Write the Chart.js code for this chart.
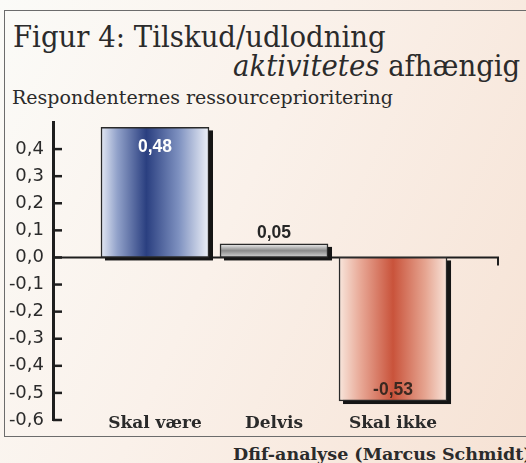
<!DOCTYPE html>
<html lang="da">
<head>
<meta charset="utf-8">
<title>Figur 4: Tilskud/udlodning aktivitetes afhængig</title>
<script src="https://cdn.jsdelivr.net/npm/chart.js@4.4.1/dist/chart.umd.min.js"></script>
<style>
  html, body { margin: 0; padding: 0; }
  body {
    width: 526px; height: 463px; overflow: hidden; position: relative;
    background: linear-gradient(115deg, #fbfbf8 0%, #faf1ea 45%, #f6e2d4 100%);
    font-family: "DejaVu Serif", serif; color: #2b2b2b;
  }
  #ramme { position: absolute; left: 4px; top: 10px; width: 600px; height: 425px; border: 1px solid #6c6c6c; }
  .txt { position: absolute; white-space: nowrap; line-height: 1; }
  #titel1 { left: 13px; top: 22.5px; font-size: 29px; transform: scaleX(0.95); transform-origin: 0 0; }
  #titel2 { right: 6px; top: 51.5px; font-size: 29px; transform: scaleX(0.95); transform-origin: 100% 0; }
  #undertitel { left: 12px; top: 88px; font-size: 19px; }
  #kilde { left: 233px; top: 446px; font-size: 17.5px; font-weight: bold; }
  canvas { position: absolute; left: 0; top: 0; }
</style>
</head>
<body>
<div id="ramme"></div>
<div class="txt" id="titel1">Figur 4: Tilskud/udlodning</div>
<div class="txt" id="titel2"><i>aktivitetes</i> afhængig</div>
<div class="txt" id="undertitel">Respondenternes ressourceprioritering</div>
<div class="txt" id="kilde">Dfif-analyse (Marcus Schmidt)</div>
<canvas id="diagram" width="526" height="463"></canvas>
<script>
// Data
const kategorier = ['Skal være', 'Delvis', 'Skal ikke'];
const vaerdier = [0.48, 0.05, -0.53];

const BAR_BREDDE = 108;

// Komma som decimaltegn
function komma(v, dec) {
  const r = Math.round(v * Math.pow(10, dec)) / Math.pow(10, dec) + 0;
  return r.toFixed(dec).replace('.', ',');
}

// Gradient for hver søjle
function soejleFarve(c) {
  const fallback = ['#2d4283', '#9a9a9a', '#c9513a'];
  if (c.type !== 'data') return fallback[0];
  const chart = c.chart;
  const i = c.dataIndex;
  const xs = chart.scales.x, ys = chart.scales.y;
  if (!xs || !ys || !chart.chartArea) return fallback[i];
  const cx = xs.getPixelForValue(i);
  const ctx = chart.ctx;
  let g;
  if (i === 0) {
    g = ctx.createLinearGradient(cx - BAR_BREDDE / 2, 0, cx + BAR_BREDDE / 2, 0);
    g.addColorStop(0, '#e3e8f3');
    g.addColorStop(0.15, '#92a2ca');
    g.addColorStop(0.42, '#2a3f80');
    g.addColorStop(0.72, '#7e91c0');
    g.addColorStop(1, '#eef1f8');
  } else if (i === 1) {
    g = ctx.createLinearGradient(0, ys.getPixelForValue(vaerdier[i]), 0, ys.getPixelForValue(0));
    g.addColorStop(0, '#f2f2f2');
    g.addColorStop(0.5, '#8a8a8a');
    g.addColorStop(1, '#d6d6d6');
  } else {
    g = ctx.createLinearGradient(cx - BAR_BREDDE / 2, 0, cx + BAR_BREDDE / 2, 0);
    g.addColorStop(0, '#f8e6dc');
    g.addColorStop(0.2, '#e8a896');
    g.addColorStop(0.5, '#c9533b');
    g.addColorStop(0.8, '#e6a591');
    g.addColorStop(1, '#f8e4da');
  }
  return g;
}

// Nullinje, tickmærker, skygger og tekster
const tegning = {
  id: 'tegning',
  beforeDatasetsDraw(chart) {
    const { ctx, chartArea } = chart;
    const y = chart.scales.y;
    const y0 = y.getPixelForValue(0);
    ctx.save();
    ctx.strokeStyle = '#1e1e1e';
    ctx.lineWidth = 2;
    ctx.beginPath();
    ctx.moveTo(chartArea.left, y0);
    ctx.lineTo(chartArea.right, y0);
    ctx.lineTo(chartArea.right, y0 + 8);
    ctx.stroke();

    ctx.lineWidth = 2.5;
    y.ticks.forEach(t => {
      if (t.value > 0.45) return;
      const py = y.getPixelForValue(t.value);
      ctx.beginPath();
      ctx.moveTo(chartArea.left, py);
      ctx.lineTo(chartArea.left + 9, py);
      ctx.stroke();
    });

    ctx.fillStyle = '#151515';
    chart.getDatasetMeta(0).data.forEach(bar => {
      const top = Math.min(bar.y, bar.base);
      const bund = Math.max(bar.y, bar.base);
      ctx.fillRect(bar.x - bar.width / 2 + 4, top + 3, bar.width, bund - top);
    });
    ctx.restore();
  },
  afterDatasetsDraw(chart) {
    const { ctx, chartArea } = chart;
    const x = chart.scales.x;
    ctx.save();
    ctx.textAlign = 'center';
    ctx.textBaseline = 'alphabetic';

    // værdier
    ctx.font = 'bold 17.5px "Liberation Sans", Arial, sans-serif';
    chart.getDatasetMeta(0).data.forEach((bar, i) => {
      const v = vaerdier[i];
      let py;
      if (Math.abs(v) < 0.1) {
        ctx.fillStyle = '#262626';
        py = bar.y - 6;
      } else if (v > 0) {
        ctx.fillStyle = '#ffffff';
        py = bar.y + 25;
      } else {
        ctx.fillStyle = '#3a2820';
        py = bar.y - 6;
      }
      ctx.fillText(komma(v, 2), bar.x, py);
    });

    // kategorier
    ctx.font = 'bold 17px "DejaVu Serif", serif';
    ctx.fillStyle = '#2a2a2a';
    kategorier.forEach((k, i) => {
      ctx.fillText(k, x.getPixelForValue(i), chartArea.bottom + 8);
    });
    ctx.restore();
  }
};

new Chart(document.getElementById('diagram'), {
  type: 'bar',
  data: {
    datasets: [{
      data: vaerdier.map((v, i) => ({ x: i, y: v })),
      backgroundColor: soejleFarve,
      borderColor: '#2a2a2a',
      borderWidth: 1.5,
      borderSkipped: false,
      barThickness: BAR_BREDDE
    }]
  },
  options: {
    responsive: false,
    animation: false,
    layout: { padding: { top: 122, bottom: 43, left: 0, right: 28 } },
    plugins: {
      legend: { display: false },
      tooltip: { enabled: false }
    },
    scales: {
      x: {
        type: 'linear',
        display: false,
        offset: false,
        min: -0.857,
        max: 2.882
      },
      y: {
        min: -0.6,
        max: 0.5,
        afterFit(scale) { scale.width = 53; },
        grid: { display: false, drawTicks: false },
        border: { display: true, color: '#1e1e1e', width: 3 },
        ticks: {
          stepSize: 0.1,
          padding: 9,
          color: '#2b2b2b',
          font: { family: '"DejaVu Sans", sans-serif', size: 18 },
          callback: v => (v > 0.45 ? '' : komma(v, 1))
        }
      }
    }
  },
  plugins: [tegning]
});
</script>
</body>
</html>
